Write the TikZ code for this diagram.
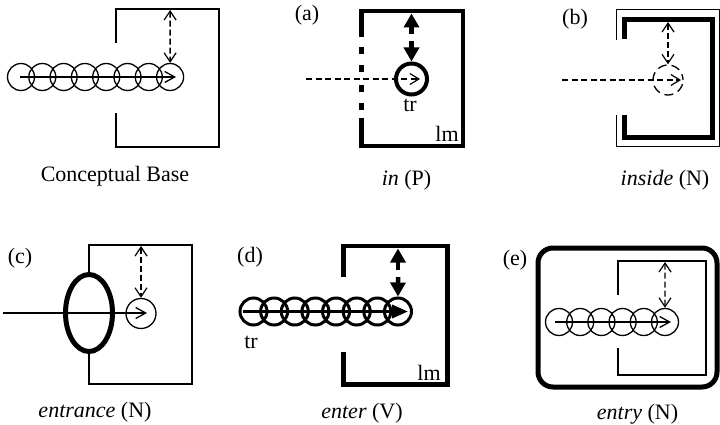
\documentclass[tikz,border=0pt]{standalone}
\usepackage{fontspec}
\setmainfont{Liberation Serif}
\usetikzlibrary{arrows.meta,shapes.geometric}

\begin{document}
\begin{tikzpicture}[x=1pt,y=-1pt,
  lbl/.style={font=\fontsize{22}{26}\selectfont, inner sep=0pt, anchor=base},
  thinline/.style={line width=1.3pt},
  heavy/.style={line width=4.5pt},
  ring/.style={circle, draw, inner sep=0pt, minimum size=#1},
  dashedpath/.style={thinline, dash pattern=on 6pt off 3.5pt},
  dashedarrow/.style={dashedpath, -{Straight Barb[length=9pt,width=11pt,line width=1.2pt]}},
  dashedtwin/.style={dashedpath, dash pattern=on 6pt off 3pt, {Straight Barb[length=9pt,width=12pt,line width=1.2pt]}-{Straight Barb[length=9pt,width=12pt,line width=1.2pt]}},
  solidarrow/.style={thinline, -{Straight Barb[length=10pt,width=11pt,line width=1.3pt]}},
  boldarrow/.style={line width=4.5pt, -{Triangle[length=14pt,width=15pt]}},
]
\useasboundingbox (0,0) rectangle (720,425);

% ---------- Conceptual Base ----------
\draw[thinline] (116,43) -- (116,9) -- (219,9) -- (219,147) -- (116,147) -- (116,113);
\foreach \i in {0,...,7}
  \node[ring=27pt, thinline] (cb\i) at ({21+21.3*\i},77) {};
\coordinate (cbS) at (20,77);
\coordinate (cbE) at (176,77);
\draw[solidarrow] (cbS) -- (cbE);
\coordinate (cbT) at (170.1,10);
\draw[dashedtwin] (cbT) -- (cb7.north);
\node[lbl] (cbL) at (115,181) {Conceptual Base};

% ---------- (a) in (P) ----------
\node[lbl] (aT) at (307,21) {(a)};
\draw[heavy] (361.5,37) -- (361.5,11) -- (463,11) -- (463,146) -- (361.5,146) -- (361.5,118);
\foreach \a/\b in {47/54, 65/72, 85/92, 103/110}
  \draw[heavy] (361.5,\a) -- (361.5,\b);
\node[ring=31pt, line width=4pt] (atr) at (411.5,79) {};
\coordinate (aS) at (306,79);
\coordinate (aE) at (420,79);
\draw[dashedarrow] (aS) -- (aE);
\coordinate (aTop) at (411.5,13.5);
\coordinate (aUp) at (411.5,34);
\coordinate (aDn) at (411.5,41);
\draw[boldarrow] (aUp) -- (aTop);
\draw[boldarrow] (aDn) -- (atr.north);
\node[lbl] (atrL) at (410,112) {tr};
\node[lbl] (almL) at (447,141.5) {lm};
\node[lbl] (aL) at (406.5,185) {\textit{in} (P)};

% ---------- (b) inside (N) ----------
\node[lbl] (bT) at (575,25) {(b)};
\draw[line width=1pt] (616,40) -- (616,10) -- (719,10) -- (719,147) -- (616,147) -- (616,115);
\draw[line width=5pt] (624,39) -- (624,19.5) -- (712.5,19.5) -- (712.5,138) -- (624,138) -- (624,115);
\node[ring=30pt, thinline, dash pattern=on 9pt off 5pt, dash phase=3pt] (bc) at (668,80) {};
\coordinate (bS) at (562,80);
\coordinate (bE) at (681,80);
\draw[dashedarrow] (bS) -- (bE);
\coordinate (bTop) at (668,22);
\draw[dashedtwin] (bTop) -- (bc.north);
\node[lbl] (bL) at (665,185) {\textit{inside} (N)};

% ---------- (c) entrance (N) ----------
\node[lbl] (cT) at (20,263) {(c)};
\node[ellipse, draw, line width=5pt, inner sep=0pt, minimum width=47pt, minimum height=77pt] (cdoor) at (89,313) {};
\draw[thinline] (cdoor.north) -- (89,245) -- (192,245) -- (192,384) -- (89,384) -- (cdoor.south);
\node[ring=30pt, thinline] (cc) at (141,313.5) {};
\coordinate (cS) at (3,313);
\coordinate (cE) at (147,313);
\draw[solidarrow] (cS) -- (cE);
\coordinate (cTop) at (141,246);
\draw[dashedtwin] (cTop) -- (cc.north);
\node[lbl] (cL) at (95,417) {\textit{entrance} (N)};

% ---------- (d) enter (V) ----------
\node[lbl] (dT) at (250,262) {(d)};
\draw[heavy] (343.5,277) -- (343.5,246) -- (447.5,246) -- (447.5,384.5) -- (343.5,384.5) -- (343.5,352);
\foreach \i in {0,...,7}
  \node[ring=27pt, line width=3pt] (d\i) at ({253.5+20.64*\i},311.5) {};
\coordinate (dS) at (243,311.5);
\coordinate (dE) at (408,311.5);
\draw[line width=3.5pt, -{Triangle[length=16pt,width=13pt]}] (dS) -- (dE);
\coordinate (dTop) at (398,248.5);
\coordinate (dUp) at (398,270);
\coordinate (dDn) at (398,277);
\draw[boldarrow] (dUp) -- (dTop);
\draw[boldarrow] (dDn) -- (d7.north);
\node[lbl] (dtrL) at (251,348) {tr};
\node[lbl] (dlmL) at (429,380) {lm};
\node[lbl] (dL) at (362,418) {\textit{enter} (V)};

% ---------- (e) entry (N) ----------
\node[lbl] (eT) at (515,265) {(e)};
\draw[line width=5pt, rounded corners=15pt] (538,248) rectangle (717,387);
\draw[thinline] (618,295) -- (618,261) -- (706,261) -- (706,375) -- (618,375) -- (618,348);
\foreach \i in {0,...,5}
  \node[ring=27pt, thinline] (e\i) at ({559+21.2*\i},322) {};
\coordinate (eS) at (555,322);
\coordinate (eE) at (671,322);
\draw[solidarrow] (eS) -- (eE);
\coordinate (eTop) at (665,262);
\draw[dashedtwin] (eTop) -- (e5.north);
\node[lbl] (eL) at (637.5,419) {\textit{entry} (N)};
\end{tikzpicture}
\end{document}
